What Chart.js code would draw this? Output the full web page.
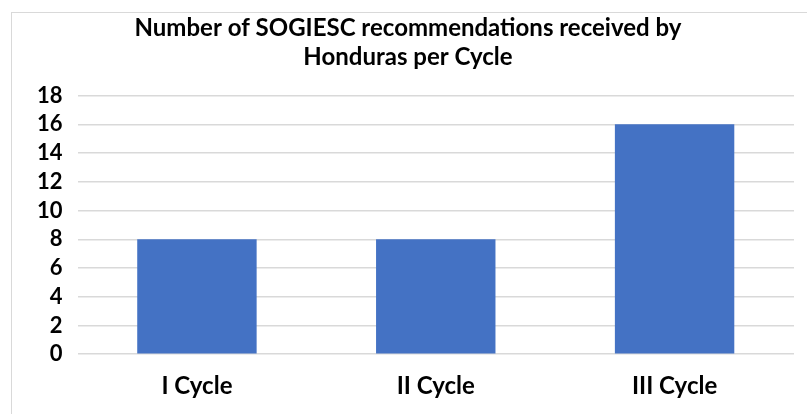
<!DOCTYPE html>
<html>
<head>
<meta charset="utf-8">
<script src="https://cdn.jsdelivr.net/npm/chart.js@4"></script>
<style>
  html, body { margin: 0; padding: 0; background: #fff; }
  #wrap { position: relative; width: 807px; height: 414px; }
  #frame { position: absolute; left: 11px; top: 12px; width: 810px; height: 420px; border: 1px solid #d9d9d9; box-sizing: border-box; }
  canvas { position: absolute; left: 0; top: 0; }
</style>
</head>
<body>
<div id="wrap">
  <div id="frame"></div>
  <canvas id="chart_plot" width="807" height="414"></canvas>
</div>
<script>
const categories = ['I Cycle', 'II Cycle', 'III Cycle'];
const recommendations = [8, 8, 16];
const titleLines = ['Number of SOGIESC recommendations received by', 'Honduras per Cycle'];

Chart.defaults.font.family = 'Lato, "Open Sans", sans-serif';
Chart.defaults.color = '#000';

const ctx = document.getElementById('chart_plot');
const myChart = new Chart(ctx, {
  type: 'bar',
  data: {
    labels: categories,
    datasets: [{
      label: 'Recommendations',
      data: recommendations,
      backgroundColor: '#4472c4',
      borderWidth: 0,
      categoryPercentage: 1.0,
      barPercentage: 0.5
    }]
  },
  options: {
    responsive: false,
    animation: false,
    layout: { padding: { left: 22, right: 13, top: 14, bottom: 3 } },
    plugins: {
      legend: { display: false },
      tooltip: { enabled: false },
      title: {
        display: true,
        text: titleLines,
        font: { size: 24, weight: 'bold', lineHeight: 1.2 },
        color: '#000',
        padding: { top: 0, bottom: 24 }
      }
    },
    scales: {
      x: {
        grid: { display: false },
        border: { display: false },
        ticks: { font: { size: 24, weight: 'bold' }, color: '#000', padding: 10 }
      },
      y: {
        min: 0,
        max: 18,
        grid: { color: '#d9d9d9', lineWidth: 1.5, drawTicks: false },
        border: { display: false },
        ticks: { stepSize: 2, autoSkip: false, font: { size: 22, weight: 'bold' }, color: '#000', padding: 15 }
      }
    }
  }
});
</script>
</body>
</html>
